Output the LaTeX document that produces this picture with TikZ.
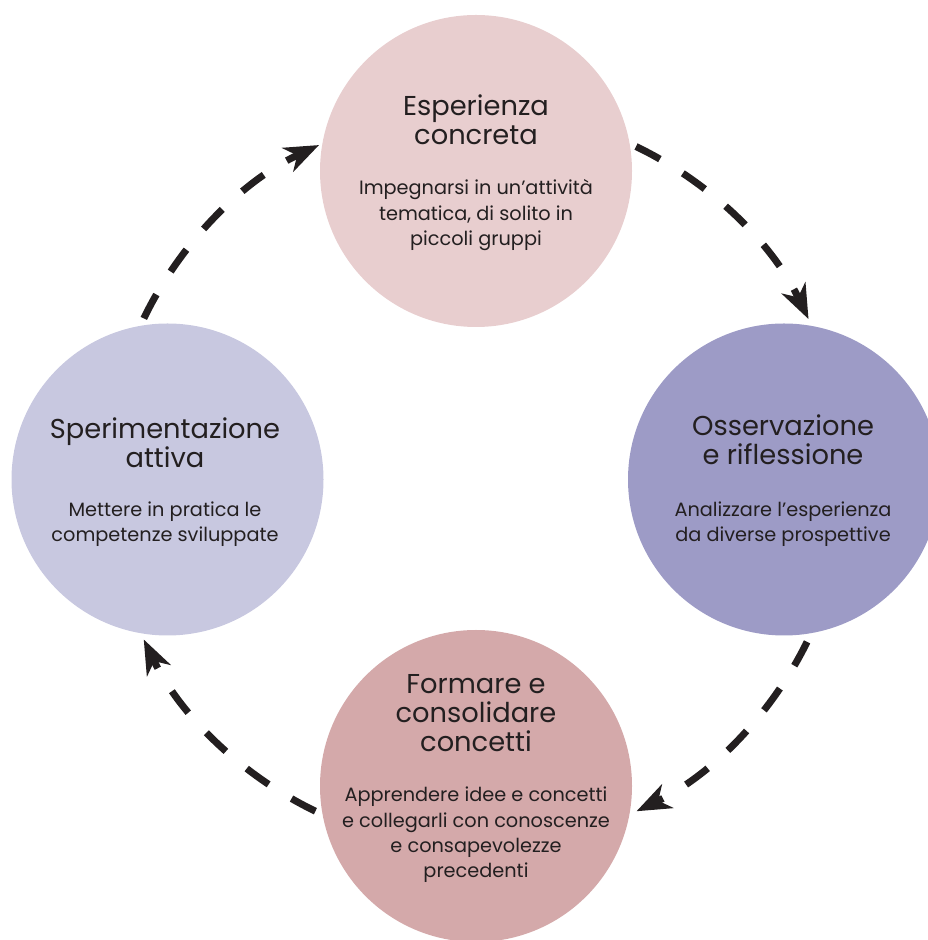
\documentclass[tikz,border=0pt]{standalone}
\usepackage{fontspec}
\setmainfont{Poppins}
\usetikzlibrary{arrows.meta}

\definecolor{inkdark}{RGB}{35,31,32}
\definecolor{pinklight}{RGB}{232,206,207}
\definecolor{lavdeep}{RGB}{157,155,198}
\definecolor{lavlight}{RGB}{200,200,224}
\definecolor{rosemid}{RGB}{212,169,170}

\tikzset{
  stage/.style={circle, minimum size=312pt, inner sep=0pt, draw=none},
  % base anchor of a multi-line node sits on its last line
  title/.style={anchor=base, align=center, text=inkdark,
    font=\fontsize{27.3}{29}\selectfont},
  body/.style={anchor=base, align=center, text=inkdark,
    font=\fontsize{19.3}{25.5}\selectfont},
  flow/.style={line width=7pt, inkdark, dash pattern=on 27pt off 27pt,
    -{Stealth[length=35pt, width=27pt, inset=11pt, line width=0pt]}}
}

\begin{document}
\begin{tikzpicture}[x=1pt, y=1pt]
  \useasboundingbox (0,0) rectangle (928,940);

  % the four stages of the cycle
  \node[stage, fill=pinklight] (exp) at (476,769) {};
  \node[stage, fill=lavdeep]   (obs) at (784,460.5) {};
  \node[stage, fill=lavlight]  (spe) at (167.5,460.5) {};
  \node[stage, fill=rosemid]   (con) at (476,154) {};

  \node[title] (expT) at (476,795) {Esperienza\\concreta};
  \node[body]  (expB) at (476,694) {Impegnarsi in un’attività\\tematica, di solito in\\piccoli gruppi};

  \node[title] (obsT) at (783,475) {Osservazione\\e riflessione};
  \node[body]  (obsB) at (783,398) {Analizzare l’esperienza\\da diverse prospettive};

  \node[title] (speT) at (165,472) {Sperimentazione\\attiva};
  \node[body]  (speB) at (165,398) {Mettere in pratica le\\competenze sviluppate};

  \node[title] (conT) at (476,188) {Formare e\\consolidare\\concetti};
  \node[body]  (conB) at (476,62) {Apprendere idee e concetti\\e collegarli con conoscenze\\e consapevolezze\\precedenti};

  % dashed arcs around a common hub
  \coordinate (hub) at (476,461);
  \path (hub) ++(64.3:369)   coordinate (a1)
        (hub) ++(-26.2:369)  coordinate (a2)
        (hub) ++(-115.8:369) coordinate (a3)
        (hub) ++(154.2:369)  coordinate (a4);

  \draw[flow] (a1) arc[start angle=64.3,   end angle=25.7,   radius=369];
  \draw[flow] (a2) arc[start angle=-26.2,  end angle=-64.2,  radius=369];
  \draw[flow] (a3) arc[start angle=-115.8, end angle=-154.2, radius=369];
  \draw[flow] (a4) arc[start angle=154.2,  end angle=115.2,  radius=369];
\end{tikzpicture}
\end{document}
